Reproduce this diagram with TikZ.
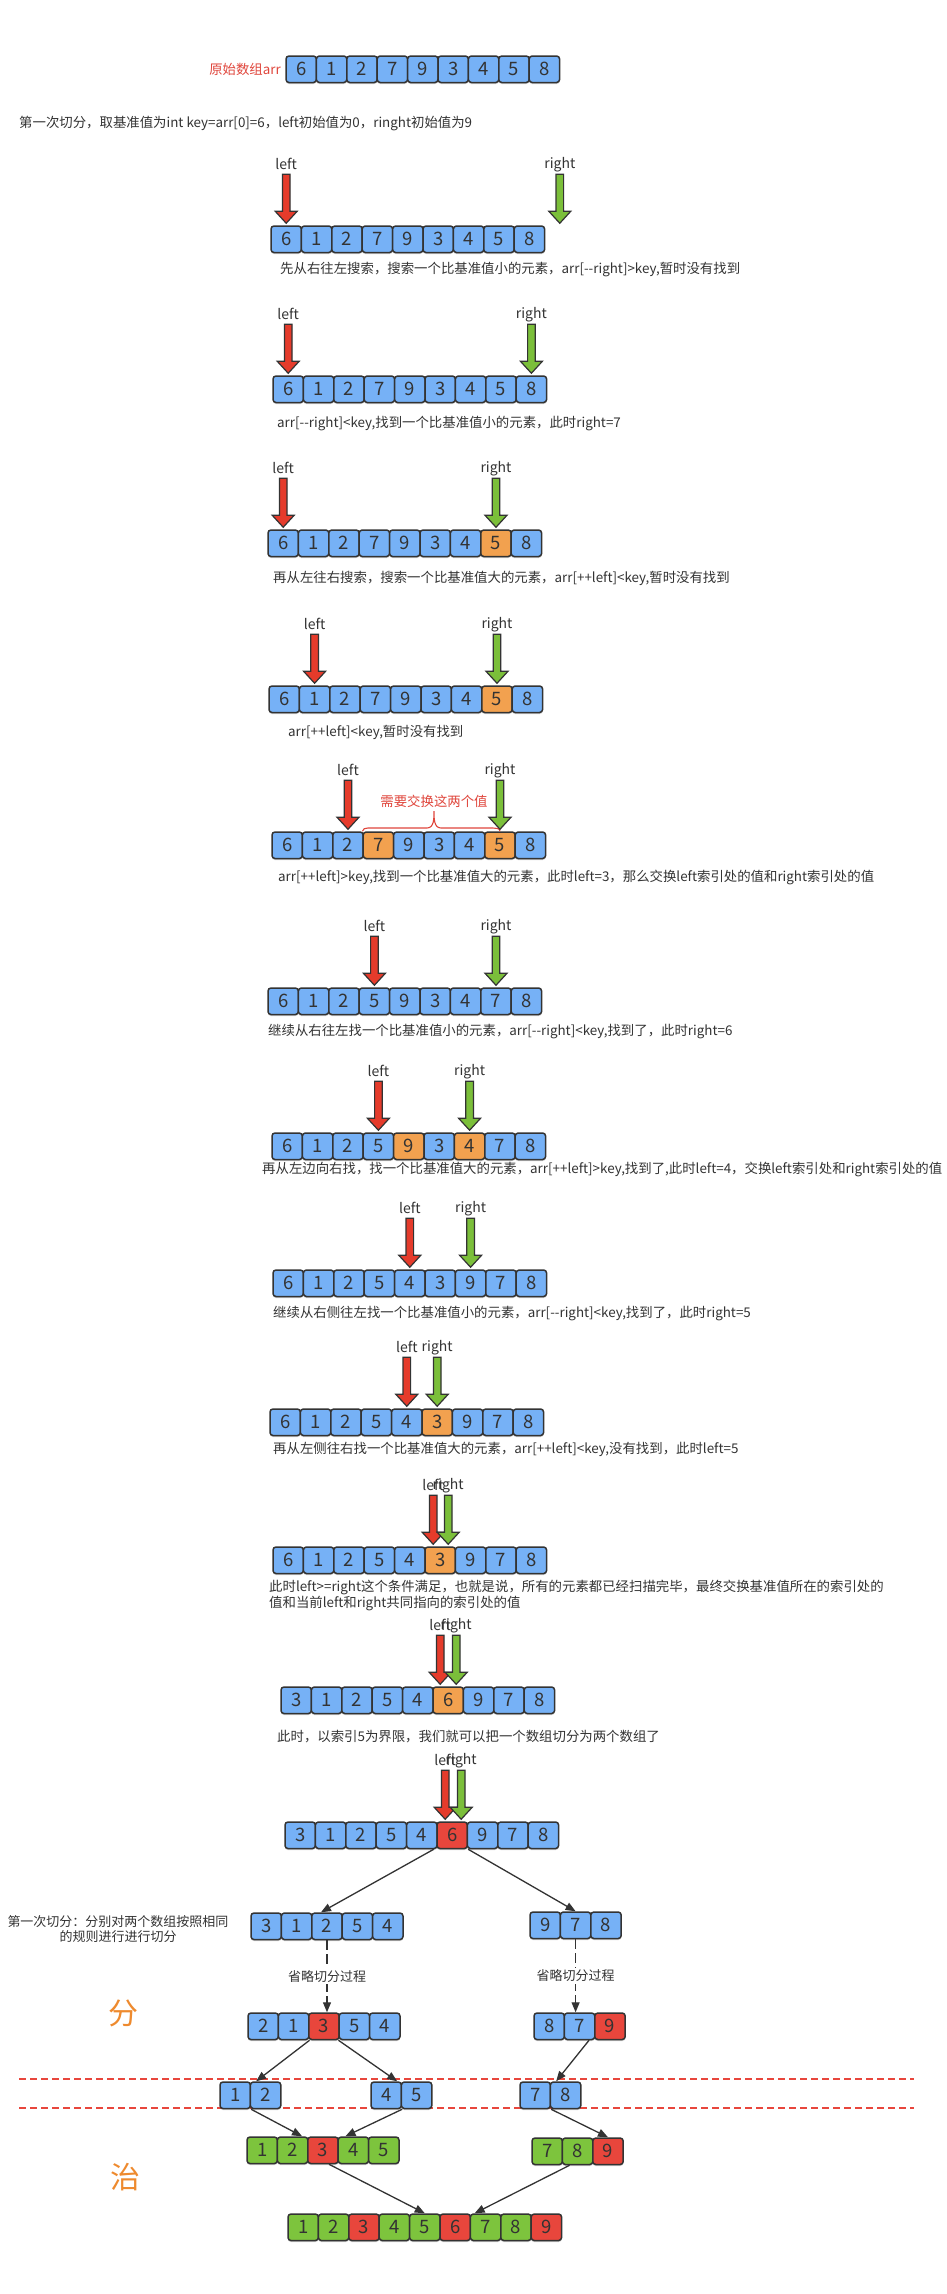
\documentclass[tikz,border=0pt]{standalone}
\usepackage{fontspec}
\setmainfont{Noto Sans CJK SC}
\usetikzlibrary{arrows.meta,shadows}

\definecolor{bl}{HTML}{76B1F6}
\definecolor{or}{HTML}{F2A14F}
\definecolor{rd}{HTML}{E8463C}
\definecolor{gr}{HTML}{7DC43D}
\definecolor{ptrred}{HTML}{E53B2B}
\definecolor{ptrgreen}{HTML}{7BBF3A}
\definecolor{ink}{HTML}{333333}
\definecolor{notered}{HTML}{E0463C}
\definecolor{stage}{HTML}{EE8A2E}

\def\cw{30.4}
\def\ch{26.5}

\tikzset{
  cell/.style={draw=ink, line width=1.5pt, rounded corners=3pt,
    minimum width=30.4pt, minimum height=26.5pt, inner sep=0pt, text=ink,
    font=\fontsize{18.5}{18.5}\selectfont,
    drop shadow={shadow xshift=0pt, shadow yshift=-1.6pt, opacity=.35}},
  ptr/.style={draw=ink, line width=1.2pt, line join=miter},
  ptrlbl/.style={text=ink, font=\fontsize{14}{14}\selectfont, inner sep=1pt},
  caption/.style={anchor=west, text=ink, font=\fontsize{13.4}{16}\selectfont, inner sep=0pt},
  note/.style={align=center, text=ink, font=\fontsize{13}{15}\selectfont, inner sep=0pt},
  stagelbl/.style={text=stage, font=\fontsize{30}{30}\selectfont, inner sep=0pt},
  edge/.style={draw=ink, line width=1.3pt, -{Triangle[length=10pt,width=8pt]}},
  omit/.style={edge, dash pattern=on 10pt off 4pt},
  sepline/.style={draw=rd, line width=1.5pt, dash pattern=on 7pt off 4pt},
}

% one row of array cells: name, left x, top y, value/colour list
\newcommand{\cellrow}[4]{%
  \foreach \v/\c [count=\i from 0] in {#4}
    {\node[cell, fill=\c] (#1-\i) at ({#2+(\i+0.5)*\cw}, {#3+\ch/2}) {\v};}
}

% pointer arrow with its label: [x offset] name, fill, cell anchor, text
\newcommand{\pointer}[5][0]{%
  \node[ptrlbl] (#2) at ([xshift=#1pt, yshift=61pt]#4) {#5};
  \draw[ptr, fill=#3, shift={(#4)}, xshift=#1pt]
    (0,-2) -- (-11,-14) -- (-3.8,-14) -- (-3.8,-51) -- (3.8,-51) -- (3.8,-14) -- (11,-14) -- cycle;
}

\begin{document}
\begin{tikzpicture}[x=1pt,y=-1pt]
  \fill[white] (0,0) rectangle (946,2294);
  \useasboundingbox (0,0) rectangle (946,2294);
  \clip (0,0) rectangle (946,2294);

  % Original array
  \node[caption, anchor=east, text=notered] (orig) at (281,69) {原始数组arr};
  \cellrow{r0}{286}{56}{6/bl,1/bl,2/bl,7/bl,9/bl,3/bl,4/bl,5/bl,8/bl}
  \node[caption] (c0) at (19,124) {第一次切分，取基准值为int key=arr[0]=6，left初始值为0，ringht初始值为9};

  % Step 1
  \cellrow{r1}{271}{226}{6/bl,1/bl,2/bl,7/bl,9/bl,3/bl,4/bl,5/bl,8/bl}
  \pointer{r1-lt}{ptrred}{r1-0.north}{left}
  \pointer[30.4]{r1-rt}{ptrgreen}{r1-8.north}{right}
  \node[caption] (c1) at (280,270) {先从右往左搜索，搜索一个比基准值小的元素，arr[-{}-right]>key,暂时没有找到};

  % Step 2
  \cellrow{r2}{273}{376}{6/bl,1/bl,2/bl,7/bl,9/bl,3/bl,4/bl,5/bl,8/bl}
  \pointer{r2-lt}{ptrred}{r2-0.north}{left}
  \pointer{r2-rt}{ptrgreen}{r2-8.north}{right}
  \node[caption] (c2) at (277,424) {arr[-{}-right]<key,找到一个比基准值小的元素，此时right=7};

  % Step 3
  \cellrow{r3}{268}{530}{6/bl,1/bl,2/bl,7/bl,9/bl,3/bl,4/bl,5/or,8/bl}
  \pointer{r3-lt}{ptrred}{r3-0.north}{left}
  \pointer{r3-rt}{ptrgreen}{r3-7.north}{right}
  \node[caption] (c3) at (273,578) {再从左往右搜索，搜索一个比基准值大的元素，arr[++left]<key,暂时没有找到};

  % Step 4
  \cellrow{r4}{269}{686}{6/bl,1/bl,2/bl,7/bl,9/bl,3/bl,4/bl,5/or,8/bl}
  \pointer{r4-lt}{ptrred}{r4-1.north}{left}
  \pointer{r4-rt}{ptrgreen}{r4-7.north}{right}
  \node[caption] (c4) at (288,732) {arr[++left]<key,暂时没有找到};

  % Step 5
  \cellrow{r5}{272}{832}{6/bl,1/bl,2/bl,7/or,9/bl,3/bl,4/bl,5/or,8/bl}
  \draw[notered, line width=1.1pt] (r5-3.north west) to[out=90,in=180] (368,828) -- (427,828)
    to[out=0,in=-90] (434,811) to[out=-90,in=180] (441,828) -- (493,828) to[out=0,in=90] (r5-7.north);
  \node[caption, anchor=center, text=notered] (swap) at (434,801) {需要交换这两个值};
  \pointer{r5-lt}{ptrred}{r5-2.north}{left}
  \pointer{r5-rt}{ptrgreen}{r5-7.north}{right}
  \node[caption] (c5) at (278,877) {arr[++left]>key,找到一个比基准值大的元素，此时left=3，那么交换left索引处的值和right索引处的值};

  % Step 6
  \cellrow{r6}{268}{988}{6/bl,1/bl,2/bl,5/bl,9/bl,3/bl,4/bl,7/bl,8/bl}
  \pointer{r6-lt}{ptrred}{r6-3.north}{left}
  \pointer{r6-rt}{ptrgreen}{r6-7.north}{right}
  \node[caption] (c6) at (268,1032) {继续从右往左找一个比基准值小的元素，arr[-{}-right]<key,找到了，此时right=6};

  % Step 7
  \cellrow{r7}{272}{1133}{6/bl,1/bl,2/bl,5/bl,9/or,3/bl,4/or,7/bl,8/bl}
  \pointer{r7-lt}{ptrred}{r7-3.north}{left}
  \pointer{r7-rt}{ptrgreen}{r7-6.north}{right}
  \node[caption] (c7) at (262,1169) {再从左边向右找，找一个比基准值大的元素，arr[++left]>key,找到了,此时left=4，交换left索引处和right索引处的值};

  % Step 8
  \cellrow{r8}{273}{1270}{6/bl,1/bl,2/bl,5/bl,4/bl,3/bl,9/bl,7/bl,8/bl}
  \pointer{r8-lt}{ptrred}{r8-4.north}{left}
  \pointer{r8-rt}{ptrgreen}{r8-6.north}{right}
  \node[caption] (c8) at (273,1314) {继续从右侧往左找一个比基准值小的元素，arr[-{}-right]<key,找到了，此时right=5};

  % Step 9
  \cellrow{r9}{270}{1409}{6/bl,1/bl,2/bl,5/bl,4/bl,3/or,9/bl,7/bl,8/bl}
  \pointer{r9-lt}{ptrred}{r9-4.north}{left}
  \pointer{r9-rt}{ptrgreen}{r9-5.north}{right}
  \node[caption] (c9) at (273,1449) {再从左侧往右找一个比基准值大的元素，arr[++left]<key,没有找到，此时left=5};

  % Step 10
  \cellrow{r10}{273}{1547}{6/bl,1/bl,2/bl,5/bl,4/bl,3/or,9/bl,7/bl,8/bl}
  \pointer[-7]{r10-lt}{ptrred}{r10-5.north}{left}
  \pointer[8]{r10-rt}{ptrgreen}{r10-5.north}{right}
  \node[caption, align=left] (c10) at (269,1595) {此时left>=right这个条件满足，也就是说，所有的元素都已经扫描完毕，最终交换基准值所在的索引处的\\值和当前left和right共同指向的索引处的值};

  % Step 11
  \cellrow{r11}{281}{1687}{3/bl,1/bl,2/bl,5/bl,4/bl,6/or,9/bl,7/bl,8/bl}
  \pointer[-8]{r11-lt}{ptrred}{r11-5.north}{left}
  \pointer[8]{r11-rt}{ptrgreen}{r11-5.north}{right}
  \node[caption] (c11) at (277,1737) {此时，以索引5为界限，我们就可以把一个数组切分为两个数组了};

  % Step 12
  \cellrow{r12}{285}{1822}{3/bl,1/bl,2/bl,5/bl,4/bl,6/rd,9/bl,7/bl,8/bl}
  \pointer[-7]{r12-lt}{ptrred}{r12-5.north}{left}
  \pointer[9]{r12-rt}{ptrgreen}{r12-5.north}{right}

  % Divide and conquer
  \draw[sepline] (19,2079) -- (914,2079);
  \draw[sepline] (19,2108) -- (914,2108);
  \node[stagelbl] (fen) at (123,2013) {分};
  \node[stagelbl] (zhi) at (125,2177) {治};
  \node[note] (n1) at (118,1929) {第一次切分：分别对两个数组按照相同\\的规则进行进行切分};

  \cellrow{t1l}{251}{1913}{3/bl,1/bl,2/bl,5/bl,4/bl}
  \cellrow{t1r}{530}{1912}{9/bl,7/bl,8/bl}
  \cellrow{t2l}{248}{2013}{2/bl,1/bl,3/rd,5/bl,4/bl}
  \cellrow{t2r}{534}{2013}{8/bl,7/bl,9/rd}
  \cellrow{t3a}{220}{2082}{1/bl,2/bl}
  \cellrow{t3b}{371}{2082}{4/bl,5/bl}
  \cellrow{t3c}{520}{2082}{7/bl,8/bl}
  \cellrow{t4l}{247}{2137}{1/gr,2/gr,3/rd,4/gr,5/gr}
  \cellrow{t4r}{532}{2138}{7/gr,8/gr,9/rd}
  \cellrow{t5}{288}{2214}{1/gr,2/gr,3/rd,4/gr,5/gr,6/rd,7/gr,8/gr,9/rd}

  % Connectors
  \draw[edge] ([xshift=-4pt]r12-4.south east) -- ([xshift=-6pt]t1l-2.north);
  \draw[edge] (r12-5.south east) -- (t1r-1.north);
  \draw[omit] (t1l-2.south) -- node[note, fill=white, inner sep=2pt] (o1) {省略切分过程} (t1l-2.south |- t2l-2.north);
  \draw[omit] (t1r-1.south) -- node[note, fill=white, inner sep=2pt] (o2) {省略切分过程} (t1r-1.south |- t2r-1.north);
  \draw[edge] (t2l-1.south east) -- ([xshift=5pt]t3a-0.north east);
  \draw[edge] (t2l-3.south west) -- ([xshift=-5pt]t3b-0.north east);
  \draw[edge] ([xshift=-5pt]t2r-2.south west) -- ([xshift=5pt]t3c-0.north east);
  \draw[edge] (t3a-0.south east) -- ([xshift=-5pt]t4l-2.north west);
  \draw[edge] (t3b-0.south east) -- ([xshift=8pt]t4l-3.north west);
  \draw[edge] (t3c-0.south east) -- (t4r-2.north);
  \draw[edge] ([xshift=6pt]t4l-2.south) -- (t5-4.north);
  \draw[edge] ([xshift=-8pt]t4r-1.south) -- ([xshift=5pt]t5-6.north west);
\end{tikzpicture}
\end{document}
